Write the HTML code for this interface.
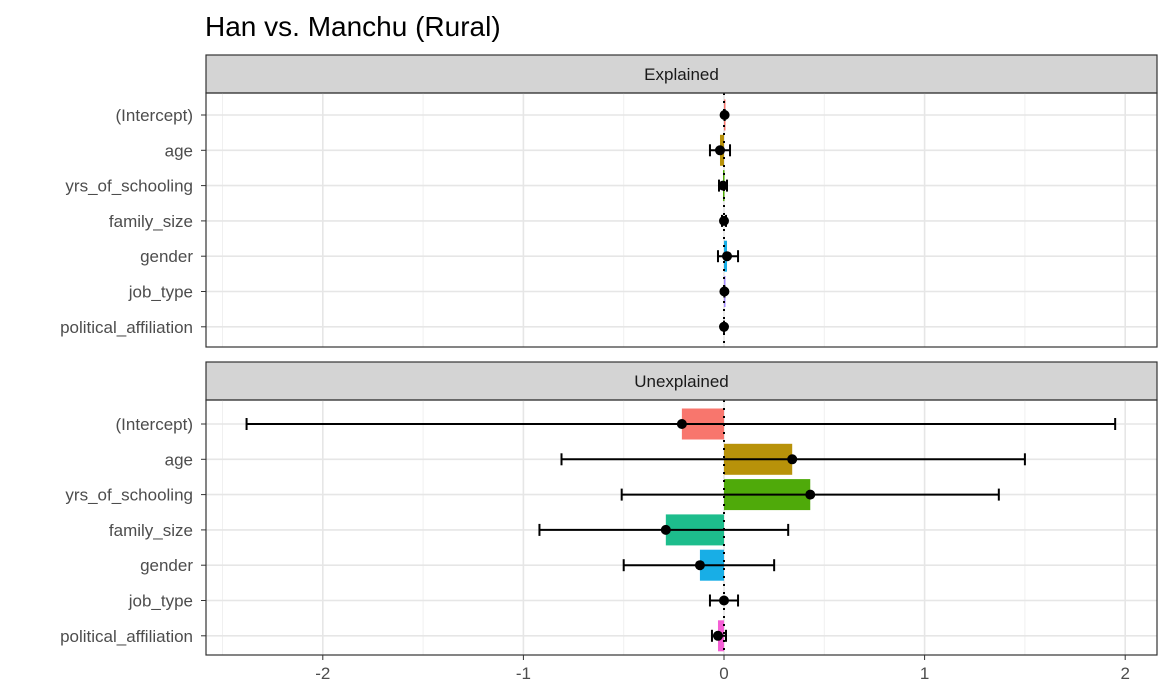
<!DOCTYPE html>
<html><head><meta charset="utf-8"><style>body{margin:0;background:#fff}svg{display:block;font-family:"Liberation Sans",sans-serif}</style></head>
<body>
<svg id="c" width="1164" height="693"></svg>
<script>
const categories=["(Intercept)","age","yrs_of_schooling","family_size","gender","job_type","political_affiliation"];
const colors=["#F8766D","#B8920A","#4FAA0A","#1DBD8C","#18AEE6","#A58AFF","#F45FD5"];
const explainedVals=[0.003,-0.02,-0.005,0.0,0.015,0.002,0.0];
const explainedLo=[0.003,-0.07,-0.025,-0.01,-0.03,0.002,0.0];
const explainedHi=[0.003,0.03,0.015,0.01,0.07,0.002,0.0];
const unexplainedVals=[-0.21,0.34,0.43,-0.29,-0.12,0.0,-0.03];
const unexplainedLo=[-2.38,-0.81,-0.51,-0.92,-0.50,-0.07,-0.06];
const unexplainedHi=[1.95,1.50,1.37,0.32,0.25,0.07,0.01];
const xTicks=[-2,-1,0,1,2];
const panels=[{title:"Explained",vals:explainedVals,lo:explainedLo,hi:explainedHi,top:93,bot:347,strip:55},
{title:"Unexplained",vals:unexplainedVals,lo:unexplainedLo,hi:unexplainedHi,top:400,bot:655,strip:362}];
const L=206,R=1157;
const x=v=>724+v*200.6;
const svg=document.getElementById('c');const NS="http://www.w3.org/2000/svg";
function add(tag,a,parent,txt){const e=document.createElementNS(NS,tag);for(const k in a)e.setAttribute(k,a[k]);if(txt!=null)e.textContent=txt;(parent||svg).appendChild(e);return e;}
const t=add('text',{x:205,y:36,'font-size':28,fill:'#000'},null,'Han vs. Manchu (Rural)');

panels.forEach((p,pi)=>{
  const g=add('g',{});
  
  
  const s=add('rect',{x:L,y:p.strip,width:R-L,height:p.top-p.strip,fill:'#d4d4d4',stroke:'#333','stroke-width':1.2},g);
  
  add('text',{x:(L+R)/2,y:p.strip+25,'text-anchor':'middle','font-size':17,fill:'#1a1a1a'},g,p.title);
  const sp=35.3, y0=p.top+(pi?24:22);
  const y=i=>y0+i*sp;
  [-2.5,-1.5,-0.5,0.5,1.5].forEach(v=>add('line',{x1:x(v),x2:x(v),y1:p.top,y2:p.bot,stroke:'#f0f0f0','stroke-width':1},g));
  xTicks.forEach(v=>add('line',{x1:x(v),x2:x(v),y1:p.top,y2:p.bot,stroke:'#e6e6e6','stroke-width':1.6},g));
  categories.forEach((c,i)=>{
    add('line',{x1:L,x2:R,y1:y(i),y2:y(i),stroke:'#e6e6e6','stroke-width':1.6},g);
    add('line',{x1:L-5,x2:L,y1:y(i),y2:y(i),stroke:'#333'},g);
    const lb=add('text',{x:L-13,y:y(i)+6,'text-anchor':'end','font-size':17,fill:'#4d4d4d'},g,c);
    
  });
  categories.forEach((c,i)=>{
    const v=p.vals[i];const b=add('rect',{x:Math.min(x(0),x(v)),y:y(i)-15.5,width:Math.max(Math.abs(x(v)-x(0)),v===0?0:1.5),height:31,fill:colors[i]},g);
    
  });
  add('line',{x1:x(0),x2:x(0),y1:p.top,y2:p.bot,stroke:'#000','stroke-width':2,'stroke-dasharray':'2,6'},g);
  categories.forEach((c,i)=>{
    const e=add('g',{},g);
    
    const a=x(p.lo[i]),b=x(p.hi[i]);
    add('line',{x1:a,x2:b,y1:y(i),y2:y(i),stroke:'#000','stroke-width':2},e);
    add('line',{x1:a,x2:a,y1:y(i)-6,y2:y(i)+6,stroke:'#000','stroke-width':2},e);
    add('line',{x1:b,x2:b,y1:y(i)-6,y2:y(i)+6,stroke:'#000','stroke-width':2},e);
    const pt=add('circle',{cx:x(p.vals[i]),cy:y(i),r:5,fill:'#000'},g);
    
  });
  add('rect',{x:L,y:p.top,width:R-L,height:p.bot-p.top,fill:'none',stroke:'#333','stroke-width':1.2},g);
  if(pi===1){xTicks.forEach(v=>{add('line',{x1:x(v),x2:x(v),y1:p.bot,y2:p.bot+5,stroke:'#333'},g);
    const tl=add('text',{x:x(v),y:p.bot+24,'text-anchor':'middle','font-size':17,fill:'#4d4d4d'},g,String(v));
    });}
});
</script>
</body></html>
